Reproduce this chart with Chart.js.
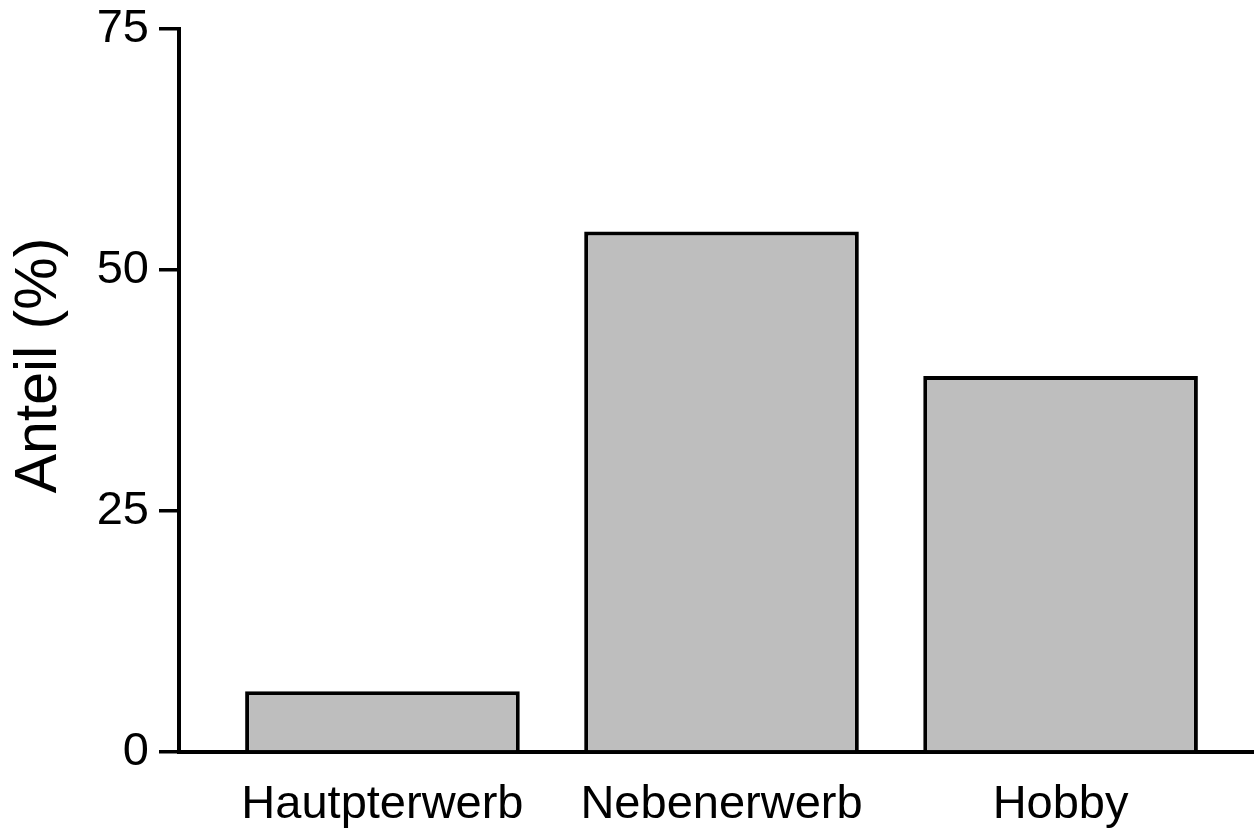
<!DOCTYPE html>
<html>
<head>
<meta charset="utf-8">
<script src="https://cdn.jsdelivr.net/npm/chart.js@4/dist/chart.umd.min.js"></script>
<style>
html,body{margin:0;padding:0;background:#fff;overflow:hidden;width:1254px;height:831px;}
#wrap{position:absolute;left:0;top:0;width:1264px;height:831px;}
</style>
</head>
<body>
<div id="wrap"><canvas id="c" width="1264" height="831"></canvas></div>
<script>
const categories = ["Hautpterwerb", "Nebenerwerb", "Hobby"];
const positions = [1, 2, 3];
const values = [6.3, 54.0, 39.0];
const yTicks = [0, 25, 50, 75];
const yTitle = "Anteil (%)";

const FONT = "'Liberation Sans', Arial, Helvetica, sans-serif";

const titleShift = {
  id: 'titleShift',
  afterLayout(chart) {
    const s = chart.scales.y;
    if (s && !s._shifted) {
      const orig = s.drawTitle.bind(s);
      s.drawTitle = function(area) {
        const ctx = this.ctx;
        ctx.save();
        ctx.translate(0, -25);
        orig(area);
        ctx.restore();
      };
      s._shifted = true;
    }
  }
};

new Chart(document.getElementById('c'), {
  type: 'bar',
  data: {
    datasets: [{
      data: positions.map((p, i) => ({x: p, y: values[i]})),
      backgroundColor: '#BEBEBE',
      borderColor: '#000000',
      borderWidth: 4,
      borderSkipped: 'bottom',
      inflateAmount: 0,
      barPercentage: 0.81,
      categoryPercentage: 1.0
    }]
  },
  plugins: [titleShift],
  options: {
    responsive: false,
    animation: false,
    devicePixelRatio: 1,
    layout: {padding: {top: 29, right: 0, left: 0, bottom: 0}},
    plugins: {legend: {display: false}, tooltip: {enabled: false}},
    scales: {
      x: {
        type: 'linear',
        offset: false,
        z: 1,
        min: 0.4,
        max: 3.6,
        afterBuildTicks(scale) { scale.ticks = positions.map(v => ({value: v})); },
        afterFit(scale) { scale.height = 79; },
        grid: {display: false, drawTicks: false, offset: false},
        border: {display: true, color: '#000', width: 4},
        ticks: {
          padding: 25,
          color: '#000',
          font: {family: FONT, size: 47},
          maxRotation: 0,
          autoSkip: false,
          callback: (v) => categories[positions.indexOf(v)] ?? ''
        }
      },
      y: {
        min: 0,
        max: 75,
        afterBuildTicks(scale) { scale.ticks = yTicks.map(v => ({value: v})); },
        afterFit(scale) { scale.width = 179; },
        grid: {display: true, drawOnChartArea: false, drawTicks: true, tickLength: 20, color: '#000', lineWidth: 3.5},
        border: {display: true, color: '#000', width: 4},
        ticks: {
          padding: 10,
          color: '#000',
          font: {family: FONT, size: 47, lineHeight: 0.8}
        },
        title: {
          display: true,
          text: yTitle,
          color: '#000',
          font: {family: FONT, size: 59},
          padding: {top: 4, bottom: 0}
        }
      }
    }
  }
});
</script>
</body>
</html>
